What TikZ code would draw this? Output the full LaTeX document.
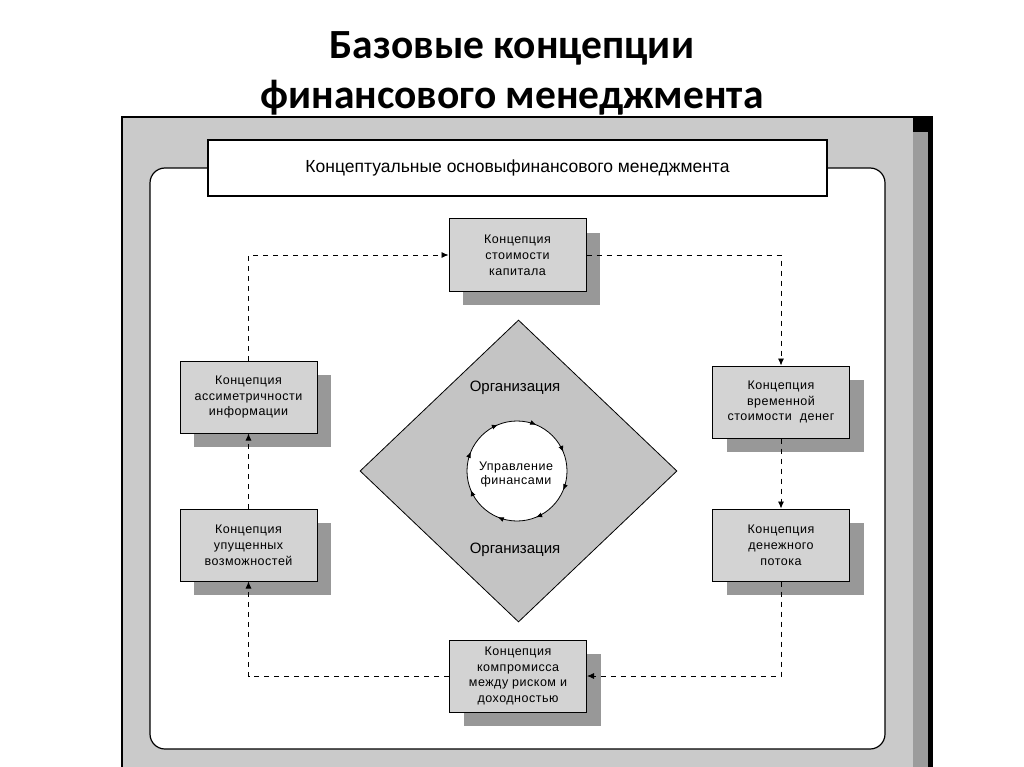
\documentclass[tikz,border=0pt]{standalone}
\usepackage{fontspec}
\setmainfont{Liberation Sans}
\newfontfamily\titlefont{Carlito}
\newfontfamily\boxfont[LetterSpace=4]{Liberation Sans}
\usetikzlibrary{arrows.meta, positioning, shapes.geometric, shadows, decorations.markings}
\definecolor{panel}{HTML}{CACACA}
\definecolor{boxgray}{HTML}{D3D3D3}
\definecolor{shade}{HTML}{989898}
\definecolor{rim}{HTML}{9C9C9C}
\definecolor{rhomb}{HTML}{C4C4C4}
\tikzset{
  concept/.style={
    rectangle, draw=black, fill=boxgray, line width=1pt,
    minimum width=137pt, minimum height=72pt, inner sep=0pt,
    align=center, font=\boxfont\fontsize{12.5}{15.8}\selectfont,
    drop shadow={shadow xshift=14pt, shadow yshift=-14pt, fill=shade, opacity=1}
  },
  link/.style={dash pattern=on 5pt off 5pt, line width=0.8pt,
               -{Latex[length=7pt,width=6pt]}},
  orgtext/.style={font=\fontsize{15}{17}\selectfont},
  ring/.style={line width=0.8pt, postaction={decorate},
    decoration={markings,
      mark=between positions 0.0625 and 1 step 0.125 with {\arrow{Latex[length=6pt,width=5pt]}}}},
}

\begin{document}
\begin{tikzpicture}[x=1pt, y=-1pt]
  \useasboundingbox (0,0) rectangle (1024,767);

  % title
  \node[font=\titlefont\bfseries\fontsize{41.5}{50}\selectfont, align=center] (title) at (512,73)
    {Базовые концепции\\финансового менеджмента};

  % board
  \fill[panel] (122,117) rectangle (913,767);
  \draw[line width=2pt] (122,770) -- (122,117) -- (913,117);
  \fill[rim] (913,130) rectangle (928,767);
  \fill[black] (913,116) rectangle (933,132);
  \fill[black] (928,116) rectangle (933,767);
  \draw[fill=white, line width=1.2pt, rounded corners=15pt] (150,168) rectangle (885,749);

  \node[draw, fill=white, line width=1.2pt, minimum width=619pt, minimum height=56pt,
        font=\fontsize{17.5}{19}\selectfont] (basis) at (517.5,168)
    {Концептуальные основыфинансового менеджмента};

  % centre
  \node[diamond, draw, fill=rhomb, line width=0.8pt, minimum width=317pt,
        minimum height=302pt, inner sep=0pt] (org) at (518.5,471) {};
  \node[orgtext] (orgtop) at (515,388) {Организация};
  \node[orgtext] (orgbot) at (515,550) {Организация};
  \coordinate (hub) at (517,471);
  \fill[white] (hub) circle[radius=50];
  \draw[ring] (hub) circle[radius=50];
  \node[align=center, font=\boxfont\fontsize{12.5}{14}\selectfont] (fin) at (516,474)
    {Управление\\финансами};

  % concepts
  \node[concept] (cap)  at (517.5,255) {Концепция\\стоимости\\капитала};
  \node[concept] (asym) at (248.5,397) {Концепция\\ассиметричности\\информации};
  \node[concept] (time) at (781,402)   {Концепция\\временной\\стоимости\ \ денег};
  \node[concept] (lost) at (248.5,545) {Концепция\\упущенных\\возможностей};
  \node[concept] (flow) at (781,545)   {Концепция\\денежного\\потока};
  \node[concept] (risk) at (518,676)   {Концепция\\компромисса\\между риском и\\доходностью};

  \draw[link] (asym.north) |- (cap.west);
  \draw[link] (cap.east) -| (time.north);
  \draw[link] (time.south) -- (flow.north);
  \draw[link] (flow.south) |- (risk.east);
  \draw[link] (risk.west) -| (lost.south);
  \draw[link] (lost.north) -- (asym.south);
\end{tikzpicture}
\end{document}
